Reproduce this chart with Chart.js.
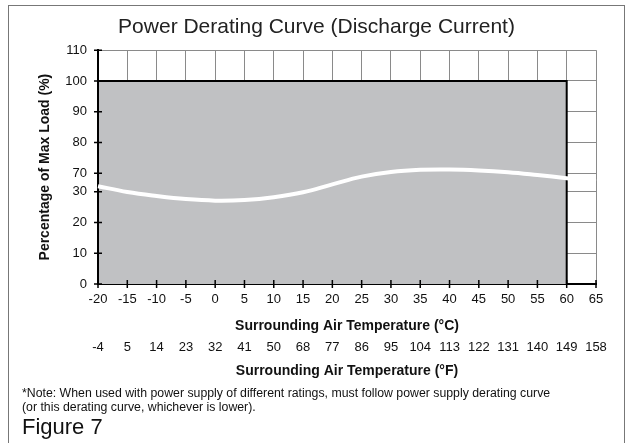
<html>
<head>
  <script src="https://cdn.jsdelivr.net/npm/chart.js"></script>
  <style>
    body { margin: 0; background: #fff; font-family: "Liberation Sans", Arial, sans-serif; }
    #frame { position: absolute; left: 8px; top: 5px; width: 615px; height: 445px; border: 1px solid #777; pointer-events: none; }
    #chart { position: absolute; left: 0; top: 0; }
    .note { position: absolute; left: 22px; font-size: 12.3px; color: #111; line-height: 14px; white-space: nowrap; }
    #fig { position: absolute; left: 22px; top: 414px; font-size: 22px; color: #111; }
  </style>
  <script>
    // celsius ticks on the bottom axis, fahrenheit labels copied as printed
    const tempC = [-20, -15, -10, -5, 0, 5, 10, 15, 20, 25, 30, 35, 40, 45, 50, 55, 60, 65];
    const tempF = ['-4', '5', '14', '23', '32', '41', '50', '68', '77', '86', '95', '104', '113', '122', '131', '140', '149', '158'];

    // y axis is broken between 30 and 70
    const yTickLabels = ['0', '10', '20', '30', '70', '80', '90', '100', '110'];
    const yTickPos = [0, 10, 20, 30, 36, 46, 56, 66, 76];

    // derating limit: 100% from -20 to 60 C
    const limitC = [-20, -20, 60, 60];
    const limitLoad = [0, 100, 100, 0];

    // wavy break mark drawn across the axis break (axis units)
    const breakC = [-20, -15, -10, -5, 0, 5, 10, 15, 20, 25, 30, 35, 40, 45, 50, 55, 60, 65];
    const breakY = [31.8, 29.9, 28.6, 27.6, 27.1, 27.3, 28.2, 29.8, 32.4, 34.9, 36.4, 37.1, 37.2, 36.9, 36.3, 35.4, 34.4, 33.3];

    function toAxis(p) {
      if (p <= 30) return p;
      if (p >= 70) return p - 34;
      return 30 + (p - 30) * 6 / 40;
    }

    const crossTicks = {
      id: 'crossTicks',
      afterDraw(chart) {
        const ctx = chart.ctx, x = chart.scales.x, y = chart.scales.y;
        ctx.save();
        ctx.strokeStyle = '#000';
        ctx.lineWidth = 1.5;
        ctx.beginPath();
        tempC.forEach(v => {
          const px = x.getPixelForValue(v);
          ctx.moveTo(px, y.bottom - 4);
          ctx.lineTo(px, y.bottom + 4);
        });
        yTickPos.forEach(v => {
          const py = y.getPixelForValue(v);
          ctx.moveTo(x.left - 4, py);
          ctx.lineTo(x.left + 4, py);
        });
        ctx.stroke();
        ctx.restore();
      }
    };

    function draw() {
      Chart.defaults.font.family = '"Liberation Sans", Arial, sans-serif';
      Chart.defaults.color = '#111';
      new Chart(document.getElementById('chart'), {
        type: 'line',
        data: {
          datasets: [{
            data: breakC.map((c, i) => ({ x: c, y: breakY[i] })),
            borderColor: '#fff',
            borderWidth: 4,
            pointRadius: 0,
            tension: 0.4,
            clip: false,
            order: 0
          }, {
            data: limitC.map((c, i) => ({ x: c, y: toAxis(limitLoad[i]) })),
            borderColor: '#000',
            borderWidth: 2,
            backgroundColor: '#c0c1c3',
            fill: 'origin',
            pointRadius: 0,
            tension: 0,
            order: 1
          }]
        },
        options: {
          responsive: false,
          animation: false,
          layout: { padding: 0 },
          plugins: {
            legend: { display: false },
            tooltip: { enabled: false },
            title: {
              display: true,
              text: 'Power Derating Curve (Discharge Current)',
              font: { size: 21, weight: 'normal' },
              color: '#222',
              padding: { top: 15, bottom: 10 }
            }
          },
          scales: {
            x: {
              type: 'linear',
              min: -20, max: 65,
              afterBuildTicks: s => { s.ticks = tempC.map(v => ({ value: v })); },
              ticks: { autoSkip: false, maxRotation: 0, padding: 8, font: { size: 13 } },
              grid: { color: '#8a8a8a', lineWidth: 1, drawTicks: false },
              border: { color: '#000', width: 2 },
              title: { display: true, text: 'Surrounding Air Temperature (°C)', font: { size: 14, weight: 'bold' }, padding: { top: 0, bottom: 3 } },
              afterFit: s => { s.height = 54; }
            },
            x2: {
              type: 'linear',
              position: 'bottom',
              min: -20, max: 65,
              afterBuildTicks: s => { s.ticks = tempC.map(v => ({ value: v })); },
              ticks: { autoSkip: false, maxRotation: 0, padding: 2, font: { size: 13 }, callback: (v, i) => tempF[i] },
              grid: { display: false, drawTicks: false },
              border: { display: false },
              title: { display: true, text: 'Surrounding Air Temperature (°F)', font: { size: 14, weight: 'bold' }, padding: { top: 0, bottom: 2 } },
              afterFit: s => { s.height = 44; }
            },
            y: {
              min: 0, max: 76,
              afterBuildTicks: s => { s.ticks = yTickPos.map(v => ({ value: v })); },
              ticks: { padding: 11, font: { size: 13 }, callback: (v, i) => yTickLabels[i] },
              grid: { color: '#8a8a8a', lineWidth: 1, drawTicks: false },
              border: { color: '#000', width: 2 },
              title: { display: true, text: 'Percentage of Max Load (%)', font: { size: 14, weight: 'bold' }, padding: { top: 37, bottom: 0 } },
              afterFit: s => { s.width = 98; }
            },
            // empty right-hand spacer so the plot ends at 65 C like the original
            yPad: {
              position: 'right',
              min: 0, max: 76,
              ticks: { display: false },
              grid: { display: false, drawTicks: false },
              border: { display: false },
              afterFit: s => { s.width = 37; }
            }
          }
        },
        plugins: [crossTicks]
      });
    }
  </script>
</head>
<body onload="draw()">
<canvas id="chart" width="633" height="382"></canvas>
<div id="frame"></div>
<div class="note" style="top:386px">*Note: When used with power supply of different ratings, must follow power supply derating curve</div>
<div class="note" style="top:400px">(or this derating curve, whichever is lower).</div>
<div id="fig">Figure 7</div>
</body>
</html>
